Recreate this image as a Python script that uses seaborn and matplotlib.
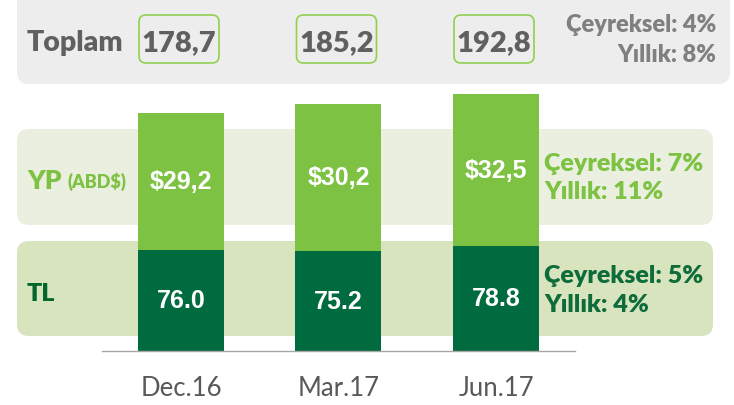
import matplotlib
matplotlib.use('Agg')
import matplotlib.pyplot as plt
import seaborn as sns
import pandas as pd
from matplotlib.patches import FancyBboxPatch

# data
periods = ['Dec.16', 'Mar.17', 'Jun.17']
tl = [76.0, 75.2, 78.8]
total = [178.7, 185.2, 192.8]
total_labels = ['178,7', '185,2', '192,8']
yp_labels = ['$29,2', '$30,2', '$32,5']
tl_labels = ['76.0', '75.2', '78.8']
toplam_growth = ['Çeyreksel: 4%', 'Yıllık: 8%']
yp_growth = ['Çeyreksel: 7%', 'Yıllık: 11%']
tl_growth = ['Çeyreksel: 5%', 'Yıllık: 4%']

df = pd.DataFrame({'period': periods, 'tl': tl, 'total': total})

LIGHT = '#7DC242'
DARK = '#006B3F'

sns.set_theme(style='white')
plt.rcParams['font.family'] = ['Lato', 'DejaVu Sans']

fig = plt.figure(figsize=(7.34, 4.06), dpi=100)

# background layer in pixel units for the rounded bands
bg = fig.add_axes([0, 0, 1, 1])
bg.set_xlim(0, 734)
bg.set_ylim(406, 0)
bg.axis('off')


def band(x0, y0, x1, y1, color, r=12, ec='none', lw=0):
    bg.add_patch(FancyBboxPatch((x0 + r, y0 + r), x1 - x0 - 2 * r, y1 - y0 - 2 * r,
                                boxstyle=f'round,pad={r}', fc=color, ec=ec, lw=lw))


band(17, -14, 730, 85, '#EDEDED')
band(17, 130, 713, 226, '#EBEFDF')
band(17, 242, 713, 337, '#D8E4BE')

# bars
ax = fig.add_axes([0, 54 / 406, 1, 352 / 406])
ax.patch.set_alpha(0)
sns.barplot(data=df, x='period', y='total', color=LIGHT, saturation=1,
            width=0.546, linewidth=0, ax=ax)
sns.barplot(data=df, x='period', y='tl', color=DARK, saturation=1,
            width=0.546, linewidth=0, ax=ax)
ax.set_xlim(-1.149, 3.511)
ax.set_ylim(0, 264)
ax.set_xlabel('')
ax.set_ylabel('')
ax.set_yticks([])
ax.tick_params(axis='x', length=0, pad=17, labelsize=18.5, labelcolor='#595959')
for s in ['top', 'left', 'right']:
    ax.spines[s].set_visible(False)
ax.spines['bottom'].set_bounds(-0.5, 2.5)
ax.spines['bottom'].set_color('#A6A6A6')
ax.spines['bottom'].set_linewidth(1)

num_font = dict(family=['Liberation Sans', 'DejaVu Sans'], weight='bold', color='white',
                size=18, ha='center', va='center')
for i in range(len(periods)):
    ax.text(i, tl[i] + (total[i] - tl[i]) / 2, yp_labels[i], **num_font)
    ax.text(i, tl[i] / 2, tl_labels[i], **num_font)

W = 'heavy'

# total boxes on top
fig.canvas.draw()
for i, lab in enumerate(total_labels):
    cx = ax.transData.transform((i, 0))[0] - 2
    band(cx - 40, 16, cx + 40, 64, 'none', r=7, ec='#92D050', lw=1.2)
    bg.text(cx, 51, lab, ha='center', va='baseline', fontsize=21, weight=W, color='#606060')

bg.text(27, 51, 'Toplam', ha='left', va='baseline', fontsize=20.5, weight=W, color='#606060')
bg.text(716, 32, toplam_growth[0], ha='right', va='baseline', fontsize=17, weight=W, color='#808080')
bg.text(716, 62, toplam_growth[1], ha='right', va='baseline', fontsize=17, weight=W, color='#808080')

bg.text(27, 189, 'YP', ha='left', va='baseline', fontsize=19, weight=W, color=LIGHT)
bg.text(68, 188, '(ABD$)', ha='left', va='baseline', fontsize=13, weight=W, color=LIGHT)
bg.text(544, 171, yp_growth[0], ha='left', va='baseline', fontsize=18, weight=W, color=LIGHT)
bg.text(544, 199, yp_growth[1], ha='left', va='baseline', fontsize=18, weight=W, color=LIGHT)

bg.text(27, 301, 'TL', ha='left', va='baseline', fontsize=18, weight=W, color='#03662A')
bg.text(544, 283, tl_growth[0], ha='left', va='baseline', fontsize=18, weight=W, color='#0E6B3A')
bg.text(544, 312, tl_growth[1], ha='left', va='baseline', fontsize=18, weight=W, color='#0E6B3A')

fig.savefig('out.png', dpi=100)
